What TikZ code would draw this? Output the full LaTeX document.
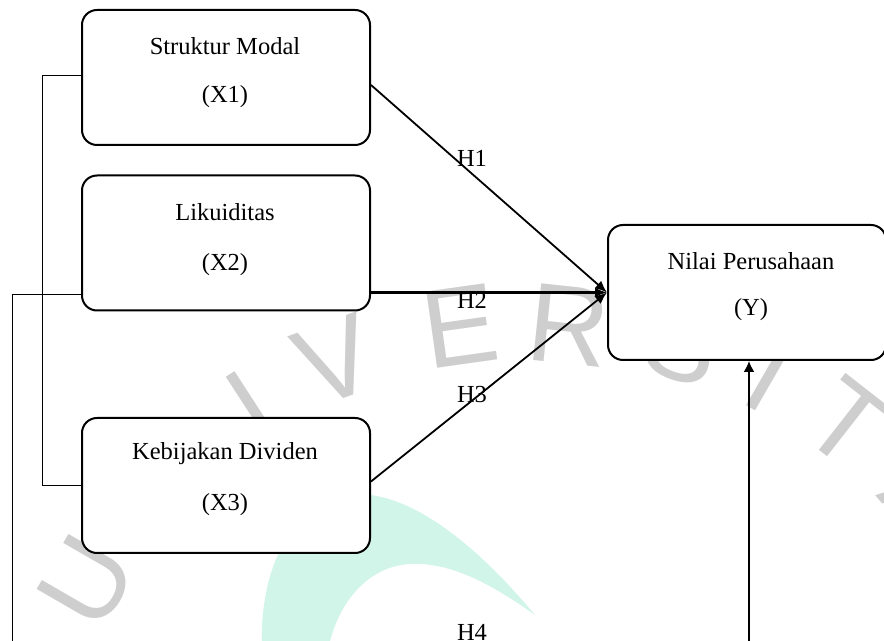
\documentclass[tikz,border=0pt]{standalone}
\usepackage{fontspec}
\setmainfont{Liberation Serif}
\newfontfamily\wmfont{Liberation Sans}
\usetikzlibrary{arrows.meta,calc}
\definecolor{wmgray}{RGB}{206,206,206}
\definecolor{mint}{RGB}{210,245,233}
\tikzset{
  varbox/.style={draw=black, line width=1pt, fill=white, rounded corners=7.5pt,
    minimum width=144pt, minimum height=67.5pt, inner sep=0pt},
  vtext/.style={font=\fontsize{12.25}{14}\selectfont, inner sep=0pt},
  hlabel/.style={font=\fontsize{12.25}{14}\selectfont, inner sep=0pt},
  wmletter/.style={font=\wmfont\fontsize{56}{60}\selectfont, text=wmgray, inner sep=0pt},
  hyparrow/.style={line width=0.9pt, -{Latex[length=6pt,width=5pt]}},
  uparrow/.style={line width=0.9pt, -{Latex[length=5.5pt,width=5.5pt]}},
  bracketline/.style={line width=0.5pt},
}
\begin{document}
\begin{tikzpicture}[x=0.5pt,y=-0.5pt]
\useasboundingbox (0,0) rectangle (884,641);
\clip (0,0) rectangle (884,641);
% watermark
\fill[mint] (262,650) .. controls (258,560) and (300,492) .. (360,494)
  .. controls (420,496) and (485,555) .. (535,615)
  .. controls (490,583) and (450,562) .. (410,564)
  .. controls (370,566) and (338,600) .. (328,650) -- cycle;
\node[wmletter, rotate=60]  (wU)  at (87,581)  {U};
\node[wmletter, rotate=33]  (wI)  at (252,407) {I};
\node[wmletter, rotate=20]  (wV)  at (335,361) {V};
\node[wmletter, rotate=8]   (wE)  at (460,326) {E};
\node[wmletter, rotate=-6]  (wR)  at (569,325) {R};
\node[wmletter, rotate=-20] (wS)  at (684,342) {S};
\node[wmletter, rotate=-30] (wI2) at (770,375) {I};
\node[wmletter, rotate=-38] (wT)  at (847,423) {T};
\node[wmletter, rotate=-50] (wA)  at (929,499) {A};
% boxes
\node[varbox] (X1) at (226,77.5) {};
\node[varbox] (X2) at (226,243) {};
\node[varbox] (X3) at (226,485.5) {};
\node[varbox, minimum width=139pt] (Y) at (747,292.5) {};
% texts
\node[vtext] (X1a) at (225,46)  {Struktur Modal};
\node[vtext] (X1b) at (225,97)  {(X1)};
\node[vtext] (X2a) at (225,212) {Likuiditas};
\node[vtext] (X2b) at (225,265) {(X2)};
\node[vtext] (X3a) at (225,454) {Kebijakan Dividen};
\node[vtext] (X3b) at (225,505) {(X3)};
\node[vtext] (Ya)  at (751,261) {Nilai Perusahaan};
\node[vtext] (Yb)  at (751,310) {(Y)};
% connectors
\draw[hyparrow] ([yshift=-3.75pt]X1.east) -- (Y.west);
\draw[hyparrow, line width=1.2pt] (X2.east |- Y.west) -- (Y.west);
\draw[hyparrow] ([yshift=2pt]X3.east) -- (Y.west);
\draw[bracketline] ([yshift=0.75pt]X1.west) -- ++(-39,0) |- (X3.west);
\coordinate (h4l) at (12,680);
\coordinate (h4r) at (749,680);
\draw[bracketline] ([yshift=-26pt]X2.west) -| (h4l) -- (h4r);
\draw[uparrow] (h4r) -- ([xshift=1pt]Y.south);
% labels
\node[hlabel] (H1) at (472,158) {H1};
\node[hlabel] (H2) at (472,300) {H2};
\node[hlabel] (H3) at (472,395) {H3};
\node[hlabel] (H4) at (472,632) {H4};
\end{tikzpicture}
\end{document}
